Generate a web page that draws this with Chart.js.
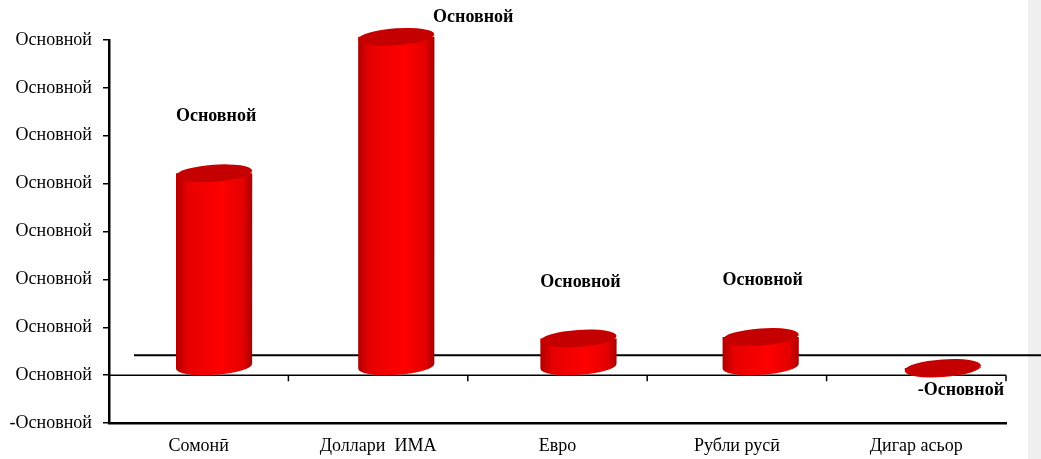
<!DOCTYPE html>
<html>
<head>
<meta charset="utf-8">
<script src="https://cdn.jsdelivr.net/npm/chart.js@4.4.1/dist/chart.umd.min.js"></script>
<style>
  html, body { margin: 0; padding: 0; background: #fff; }
  #wrap { width: 1041px; height: 459px; }
</style>
</head>
<body>
<div id="wrap"><canvas id="chart" width="1041" height="459"></canvas></div>
<script>
const categories = ['Сомонӣ', 'Доллари  ИМА', 'Евро', 'Рубли русӣ', 'Дигар асьор'];
const shares = [4.05, 6.9, 0.6, 0.63, -0.03];
const tickText = 'Основной';
const labelText = 'Основной';

const FONT = '"Liberation Serif", "Times New Roman", serif';

// 3d look: bars pushed back into the depth, a little more on the right side
const DX0 = 14, DX1 = 28, DY = -8, RY = 8.5, TILT = -0.07;

function cylinder(ctx, cx, yTop, yBase, w) {
  const x0 = cx - w / 2, x1 = cx + w / 2;
  const hi = Math.min(yTop, yBase), lo = Math.max(yTop, yBase);
  const g = ctx.createLinearGradient(x0, 0, x1, 0);
  g.addColorStop(0, '#b00000');
  g.addColorStop(0.15, '#e60000');
  g.addColorStop(0.6, '#ff0000');
  g.addColorStop(0.88, '#e40000');
  g.addColorStop(1, '#a80000');
  ctx.fillStyle = g;
  ctx.beginPath();
  ctx.moveTo(x0, hi);
  ctx.lineTo(x0, lo);
  ctx.ellipse(cx, lo, w / 2, RY, TILT, Math.PI, 0, true);
  ctx.lineTo(x1, hi);
  ctx.closePath();
  ctx.fill();
  ctx.fillStyle = '#c40000';
  ctx.beginPath();
  ctx.ellipse(cx, hi, w / 2, RY, TILT, 0, Math.PI * 2);
  ctx.fill();
}

const decor = {
  id: 'decor',
  beforeDraw(chart) {
    const { ctx, width, height } = chart;
    ctx.save();
    ctx.fillStyle = '#fff';
    ctx.fillRect(0, 0, width, height);
    ctx.fillStyle = '#f0f0f0';
    ctx.fillRect(1028, 0, width - 1028, height);
    ctx.restore();
  },
  afterDatasetsDraw(chart) {
    const { ctx, chartArea, width } = chart;
    const y = chart.scales.y;
    const zero = y.getPixelForValue(0);
    const span = chartArea.right - chartArea.left;
    ctx.save();
    ctx.strokeStyle = '#000';
    // back edge of the zero plane
    ctx.lineWidth = 2;
    ctx.beginPath();
    ctx.moveTo(chartArea.left + 25, zero - 20);
    ctx.lineTo(width, zero - 20);
    ctx.stroke();
    // zero line with category ticks
    ctx.lineWidth = 1.5;
    ctx.beginPath();
    ctx.moveTo(chartArea.left, zero);
    ctx.lineTo(chartArea.right, zero);
    const step = span / categories.length;
    for (let i = 1; i <= categories.length; i++) {
      const tx = chartArea.left + i * step;
      ctx.moveTo(tx, zero);
      ctx.lineTo(tx, zero + 6);
    }
    ctx.stroke();

    const meta = chart.getDatasetMeta(0);
    const centers = meta.data.map(bar => bar.x + DX0 + (DX1 - DX0) * (bar.x - chartArea.left) / span);
    meta.data.forEach((bar, i) => {
      cylinder(ctx, centers[i], bar.y + DY, bar.base + DY, bar.width);
    });

    ctx.fillStyle = '#000';
    ctx.font = 'bold 18px ' + FONT;
    ctx.textAlign = 'center';
    ctx.textBaseline = 'middle';
    meta.data.forEach((bar, i) => {
      const cx = centers[i];
      const top = Math.min(bar.y, bar.base) + DY - RY;
      if (shares[i] < 0) {
        ctx.fillText('-' + labelText, cx + 18, bar.base + DY + 22);
      } else if (top - 48 < 12) {
        ctx.fillText(labelText, cx + 77, 17);
      } else {
        ctx.fillText(labelText, cx + 2, top - 48);
      }
    });
    ctx.restore();
  }
};

new Chart(document.getElementById('chart'), {
  type: 'bar',
  data: {
    labels: categories,
    datasets: [{
      data: shares,
      backgroundColor: 'rgba(0,0,0,0)',
      borderWidth: 0,
      barPercentage: 0.85,
      categoryPercentage: 0.5
    }]
  },
  options: {
    responsive: false,
    devicePixelRatio: 1,
    animation: false,
    layout: { padding: { top: 40, right: 35, left: 0, bottom: 0 } },
    plugins: { legend: { display: false }, tooltip: { enabled: false } },
    scales: {
      x: {
        grid: { display: false, drawTicks: false },
        border: { display: true, color: '#000', width: 2.5 },
        ticks: { color: '#000', font: { family: FONT, size: 18 }, padding: 12 },
        afterFit(s) { s.height = 36; }
      },
      y: {
        min: -1,
        max: 7,
        ticks: {
          stepSize: 1,
          color: '#000',
          font: { family: FONT, size: 18 },
          padding: 11,
          callback: v => (v < 0 ? '-' + tickText : tickText)
        },
        grid: { drawOnChartArea: false, drawTicks: true, tickLength: 6, color: '#000', lineWidth: 1.5 },
        border: { color: '#000', width: 2.5 },
        afterFit(s) { s.width = 109; }
      }
    }
  },
  plugins: [decor]
});
</script>
</body>
</html>
